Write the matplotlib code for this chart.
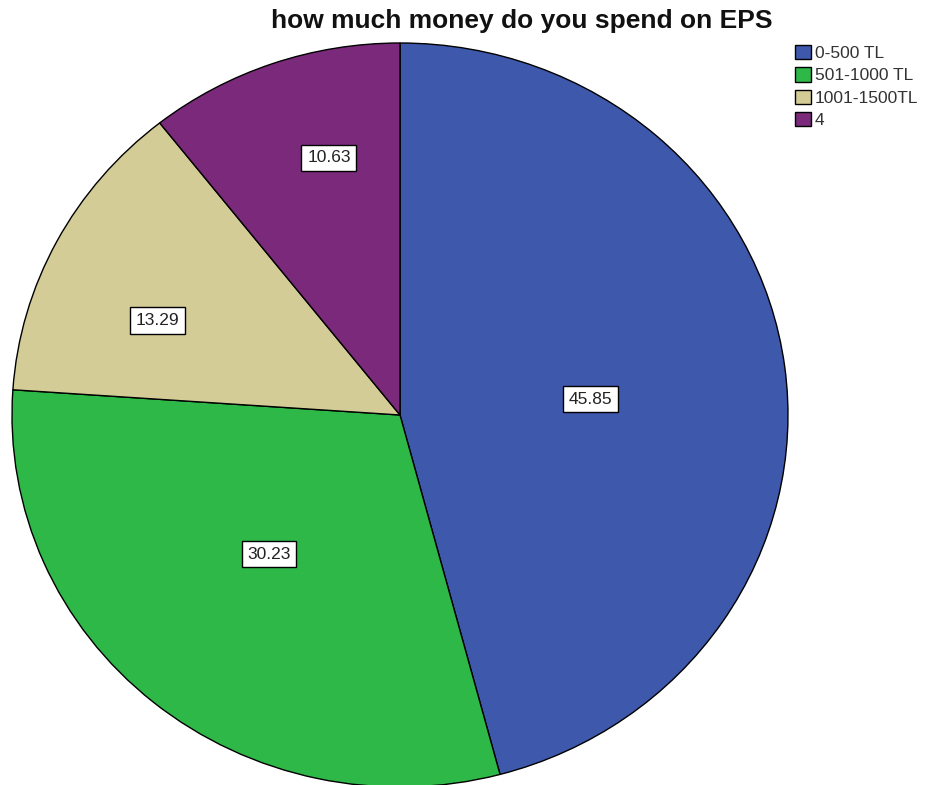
import matplotlib
matplotlib.use("Agg")
import matplotlib.pyplot as plt
import numpy as np

categories = ["0-500 TL", "501-1000 TL", "1001-1500TL", "4"]
percentages = [45.85, 30.23, 13.29, 10.63]
colors = ["#3E58AC", "#2EB848", "#D4CC96", "#7B2A7B"]
# label placement inside each wedge: radius fraction and angular nudge (degrees)
label_radius = [0.492, 0.504, 0.674, 0.715]
label_nudge = [-2.5, -2.6, 5.7, -4.3]
title = "how much money do you spend on EPS"

W, H = 928, 785
fig = plt.figure(figsize=(W / 100, H / 100), dpi=100)
fig.patch.set_facecolor("white")

# pie occupies a slightly wide ellipse
cx, cy, rx, ry = 400, 415, 388, 372
ax = fig.add_axes([(cx - rx) / W, (H - cy - ry) / H, 2 * rx / W, 2 * ry / H])

wedges, _ = ax.pie(percentages, colors=colors, startangle=90, counterclock=False,
                   radius=1.0, wedgeprops=dict(edgecolor="black", linewidth=1.0))
ax.set_aspect("auto")
ax.set_xlim(-1, 1)
ax.set_ylim(-1, 1)
ax.axis("off")

for w, val, r, d in zip(wedges, percentages, label_radius, label_nudge):
    mid = np.deg2rad((w.theta1 + w.theta2) / 2 + d)
    ax.text(r * np.cos(mid), r * np.sin(mid), f"{val:.2f}", ha="center", va="center",
            fontsize=12.5, family="Liberation Sans", color="#222222",
            bbox=dict(boxstyle="square,pad=0.33", facecolor="white", edgecolor="black", linewidth=1.0))

fig.text(522 / W, 1 - 21 / H, title, ha="center", va="center", fontsize=19,
         fontweight="bold", family="Liberation Sans", color="#111111")

handles = [plt.Rectangle((0, 0), 1, 1, facecolor=c, edgecolor="black", linewidth=1.0) for c in colors]
fig.legend(handles, categories, loc="upper left", bbox_to_anchor=(795 / W, 1 - 45 / H),
           frameon=False, prop=dict(family="Liberation Sans", size=12.5),
           handlelength=0.9, handleheight=0.9, handletextpad=0.25, labelspacing=0.35,
           borderaxespad=0, borderpad=0, labelcolor="#333333")

fig.savefig("out.png", dpi=100, facecolor="white")
